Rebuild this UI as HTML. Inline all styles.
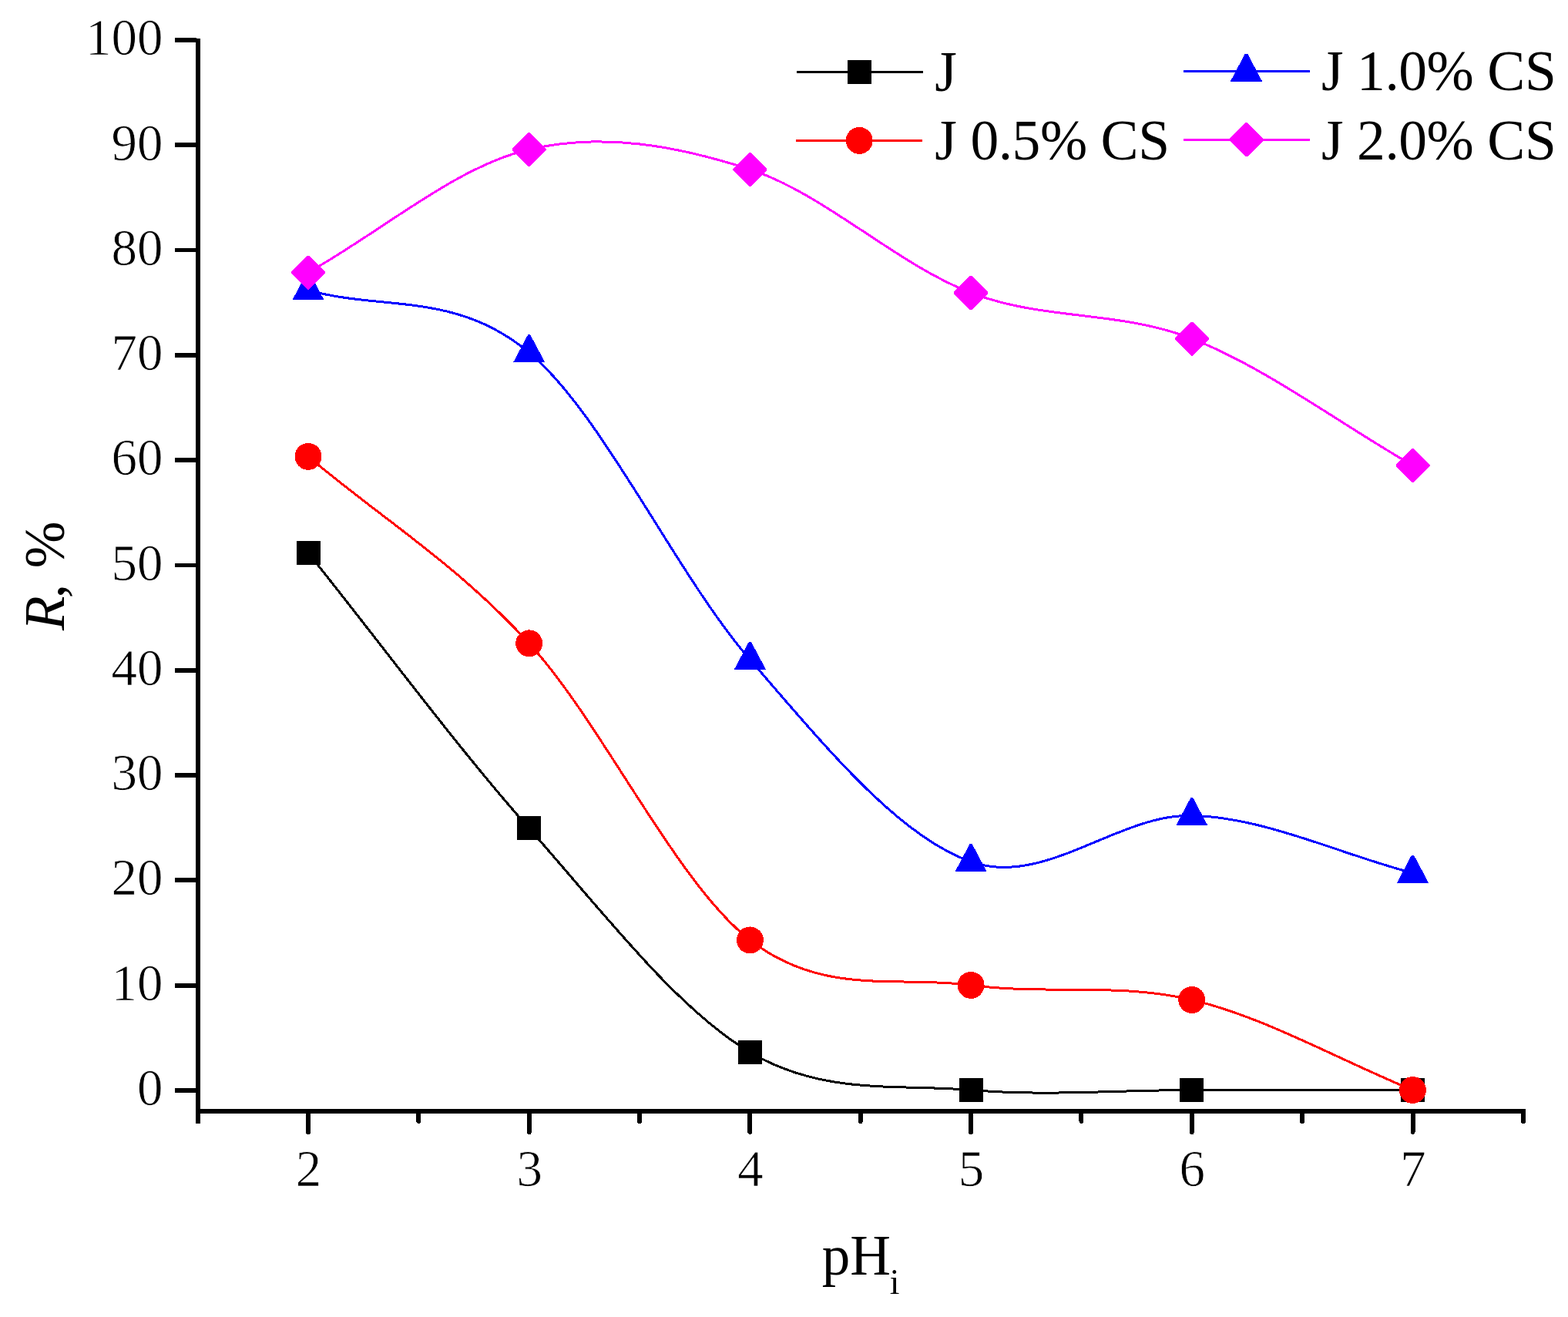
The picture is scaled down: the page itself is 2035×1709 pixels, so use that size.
<!DOCTYPE html>
<html><head><meta charset="utf-8"><style>
html,body{margin:0;padding:0;background:#fff;}
svg{display:block;}
path,line,rect,polygon,circle{shape-rendering:crispEdges;}
text{font-family:"Liberation Serif",serif;fill:#000;}
.tk{font-size:67.0px;stroke:#fff;stroke-width:0.75px;}
.tt{font-size:73.0px;}
.lg{font-size:73.5px;letter-spacing:-0.45px;}
</style></head><body>
<svg width="2035" height="1709" viewBox="0 0 2035 1709">
<rect width="2035" height="1709" fill="#fff"/>
<rect x="254" y="49.5" width="6" height="1408.5" fill="#000"/>
<rect x="254" y="1439" width="1726" height="6" fill="#000"/>
<rect x="227" y="1412.05" width="28" height="5.8" fill="#000"/>
<text x="211.5" y="1433.90" text-anchor="end" class="tk">0</text>
<rect x="227" y="1275.75" width="28" height="5.8" fill="#000"/>
<text x="211.5" y="1297.65" text-anchor="end" class="tk">10</text>
<rect x="227" y="1139.45" width="28" height="5.8" fill="#000"/>
<text x="211.5" y="1161.40" text-anchor="end" class="tk">20</text>
<rect x="227" y="1003.15" width="28" height="5.8" fill="#000"/>
<text x="211.5" y="1025.15" text-anchor="end" class="tk">30</text>
<rect x="227" y="866.85" width="28" height="5.8" fill="#000"/>
<text x="211.5" y="888.90" text-anchor="end" class="tk">40</text>
<rect x="227" y="730.55" width="28" height="5.8" fill="#000"/>
<text x="211.5" y="752.65" text-anchor="end" class="tk">50</text>
<rect x="227" y="594.25" width="28" height="5.8" fill="#000"/>
<text x="211.5" y="616.40" text-anchor="end" class="tk">60</text>
<rect x="227" y="457.95" width="28" height="5.8" fill="#000"/>
<text x="211.5" y="480.15" text-anchor="end" class="tk">70</text>
<rect x="227" y="321.65" width="28" height="5.8" fill="#000"/>
<text x="211.5" y="343.90" text-anchor="end" class="tk">80</text>
<rect x="227" y="185.35" width="28" height="5.8" fill="#000"/>
<text x="211.5" y="207.65" text-anchor="end" class="tk">90</text>
<rect x="227" y="49.05" width="28" height="5.8" fill="#000"/>
<text x="211.5" y="71.40" text-anchor="end" class="tk">100</text>
<line x1="400.00" y1="1442" x2="400.00" y2="1469" stroke="#000" stroke-width="6" stroke-linecap="round"/>
<text x="400.50" y="1538.9" text-anchor="middle" class="tk">2</text>
<line x1="686.70" y1="1442" x2="686.70" y2="1469" stroke="#000" stroke-width="6" stroke-linecap="round"/>
<text x="687.20" y="1538.9" text-anchor="middle" class="tk">3</text>
<line x1="973.40" y1="1442" x2="973.40" y2="1469" stroke="#000" stroke-width="6" stroke-linecap="round"/>
<text x="973.90" y="1538.9" text-anchor="middle" class="tk">4</text>
<line x1="1260.10" y1="1442" x2="1260.10" y2="1469" stroke="#000" stroke-width="6" stroke-linecap="round"/>
<text x="1260.60" y="1538.9" text-anchor="middle" class="tk">5</text>
<line x1="1546.80" y1="1442" x2="1546.80" y2="1469" stroke="#000" stroke-width="6" stroke-linecap="round"/>
<text x="1547.30" y="1538.9" text-anchor="middle" class="tk">6</text>
<line x1="1833.50" y1="1442" x2="1833.50" y2="1469" stroke="#000" stroke-width="6" stroke-linecap="round"/>
<text x="1834.00" y="1538.9" text-anchor="middle" class="tk">7</text>
<line x1="543.35" y1="1442" x2="543.35" y2="1455" stroke="#000" stroke-width="6" stroke-linecap="round"/>
<line x1="830.05" y1="1442" x2="830.05" y2="1455" stroke="#000" stroke-width="6" stroke-linecap="round"/>
<line x1="1116.75" y1="1442" x2="1116.75" y2="1455" stroke="#000" stroke-width="6" stroke-linecap="round"/>
<line x1="1403.45" y1="1442" x2="1403.45" y2="1455" stroke="#000" stroke-width="6" stroke-linecap="round"/>
<line x1="1690.15" y1="1442" x2="1690.15" y2="1455" stroke="#000" stroke-width="6" stroke-linecap="round"/>
<line x1="1976.85" y1="1442" x2="1976.85" y2="1455" stroke="#000" stroke-width="6" stroke-linecap="round"/>
<text x="1066.7" y="1653.8" class="tt">pH<tspan font-size="45.6" dx="-1.2" dy="25.2">i</tspan></text>
<text transform="translate(83.2,817.9) rotate(-90)" class="tt"><tspan font-style="italic">R</tspan><tspan dx="-3">,</tspan><tspan dx="2.5"> %</tspan></text>
<path d="M400.00,717.45 C495.57,836.62 591.13,966.96 686.70,1074.96 C782.27,1182.97 877.83,1308.86 973.40,1365.45 C1068.97,1422.04 1164.53,1406.33 1260.10,1414.50 C1355.67,1422.67 1451.23,1414.50 1546.80,1414.50 C1642.37,1414.50 1737.93,1414.50 1833.50,1414.50" fill="none" stroke="#000000" stroke-width="3.0"/>
<rect x="384.50" y="701.95" width="31" height="31" fill="#000000"/>
<rect x="671.20" y="1059.46" width="31" height="31" fill="#000000"/>
<rect x="957.90" y="1349.95" width="31" height="31" fill="#000000"/>
<rect x="1244.60" y="1399.00" width="31" height="31" fill="#000000"/>
<rect x="1531.30" y="1399.00" width="31" height="31" fill="#000000"/>
<rect x="1818.00" y="1399.00" width="31" height="31" fill="#000000"/>
<path d="M400.00,592.37 C495.57,673.21 591.13,730.30 686.70,834.89 C782.27,939.49 877.83,1146.02 973.40,1219.93 C1068.97,1293.85 1164.53,1265.47 1260.10,1278.39 C1355.67,1291.31 1451.23,1274.78 1546.80,1297.46 C1642.37,1320.15 1737.93,1375.49 1833.50,1414.50" fill="none" stroke="#ff0000" stroke-width="3.0"/>
<circle cx="400.00" cy="592.37" r="17.5" fill="#ff0000"/>
<circle cx="686.70" cy="834.89" r="17.5" fill="#ff0000"/>
<circle cx="973.40" cy="1219.93" r="17.5" fill="#ff0000"/>
<circle cx="1260.10" cy="1278.39" r="17.5" fill="#ff0000"/>
<circle cx="1546.80" cy="1297.46" r="17.5" fill="#ff0000"/>
<circle cx="1833.50" cy="1414.50" r="17.5" fill="#ff0000"/>
<path d="M400.00,376.55 C495.57,403.52 591.13,377.57 686.70,457.48 C782.27,537.39 877.83,745.88 973.40,856.01 C1068.97,966.15 1164.53,1084.57 1260.10,1118.29 C1355.67,1152.01 1451.23,1055.91 1546.80,1058.34 C1642.37,1060.77 1737.93,1108.03 1833.50,1132.87" fill="none" stroke="#0000ff" stroke-width="3.0"/>
<polygon points="398.40,353.55 401.60,353.55 420.60,389.35 379.40,389.35" fill="#0000ff"/>
<polygon points="685.10,434.48 688.30,434.48 707.30,470.28 666.10,470.28" fill="#0000ff"/>
<polygon points="971.80,833.01 975.00,833.01 994.00,868.81 952.80,868.81" fill="#0000ff"/>
<polygon points="1258.50,1095.29 1261.70,1095.29 1280.70,1131.09 1239.50,1131.09" fill="#0000ff"/>
<polygon points="1545.20,1035.34 1548.40,1035.34 1567.40,1071.14 1526.20,1071.14" fill="#0000ff"/>
<polygon points="1831.90,1109.87 1835.10,1109.87 1854.10,1145.67 1812.90,1145.67" fill="#0000ff"/>
<path d="M400.00,353.52 C495.57,300.34 591.13,216.25 686.70,193.97 C782.27,171.70 877.83,188.86 973.40,219.86 C1068.97,250.86 1164.53,343.35 1260.10,379.95 C1355.67,416.56 1451.23,402.16 1546.80,439.50 C1642.37,476.83 1737.93,549.13 1833.50,603.95" fill="none" stroke="#ff00ff" stroke-width="3.0"/>
<polygon points="398.80,331.52 401.20,331.52 422.00,352.32 422.00,354.72 401.20,375.52 398.80,375.52 378.00,354.72 378.00,352.32" fill="#ff00ff"/>
<polygon points="685.50,171.97 687.90,171.97 708.70,192.77 708.70,195.17 687.90,215.97 685.50,215.97 664.70,195.17 664.70,192.77" fill="#ff00ff"/>
<polygon points="972.20,197.86 974.60,197.86 995.40,218.66 995.40,221.06 974.60,241.86 972.20,241.86 951.40,221.06 951.40,218.66" fill="#ff00ff"/>
<polygon points="1258.90,357.95 1261.30,357.95 1282.10,378.75 1282.10,381.15 1261.30,401.95 1258.90,401.95 1238.10,381.15 1238.10,378.75" fill="#ff00ff"/>
<polygon points="1545.60,417.50 1548.00,417.50 1568.80,438.30 1568.80,440.69 1548.00,461.50 1545.60,461.50 1524.80,440.69 1524.80,438.30" fill="#ff00ff"/>
<polygon points="1832.30,581.95 1834.70,581.95 1855.50,602.75 1855.50,605.15 1834.70,625.95 1832.30,625.95 1811.50,605.15 1811.50,602.75" fill="#ff00ff"/>
<line x1="1033.5" y1="93.2" x2="1197.5" y2="93.2" stroke="#000000" stroke-width="3.0"/>
<rect x="1100.00" y="77.70" width="31" height="31" fill="#000000"/>
<text x="1213.3" y="117.8" class="lg">J</text>
<line x1="1033.2" y1="182.4" x2="1197.2" y2="182.4" stroke="#ff0000" stroke-width="3.0"/>
<circle cx="1115.20" cy="182.40" r="17.5" fill="#ff0000"/>
<text x="1213.3" y="207.3" class="lg">J 0.5% CS</text>
<line x1="1535.5" y1="92.7" x2="1699.5" y2="92.7" stroke="#0000ff" stroke-width="3.0"/>
<polygon points="1615.90,69.70 1619.10,69.70 1638.10,105.50 1596.90,105.50" fill="#0000ff"/>
<text x="1715.0" y="117.4" class="lg">J 1.0% CS</text>
<line x1="1535.7" y1="181.3" x2="1699.7" y2="181.3" stroke="#ff00ff" stroke-width="3.0"/>
<polygon points="1616.50,159.30 1618.90,159.30 1639.70,180.10 1639.70,182.50 1618.90,203.30 1616.50,203.30 1595.70,182.50 1595.70,180.10" fill="#ff00ff"/>
<text x="1715.0" y="207.0" class="lg">J 2.0% CS</text>
</svg>
</body></html>
